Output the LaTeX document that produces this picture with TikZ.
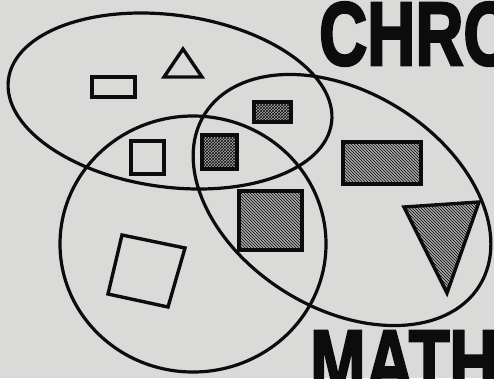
\documentclass[tikz,border=0pt]{standalone}
\usepackage{fontspec}
\usetikzlibrary{patterns}
\newfontfamily\headfont[FakeBold=3]{Liberation Sans Bold}
\definecolor{paper}{RGB}{218,218,216}
\definecolor{ink}{RGB}{12,12,12}
\tikzset{
  venn/.style={draw=ink, line width=3.2pt},
  outl/.style={draw=ink, line width=3.4pt, line join=miter},
  hatched/.style={outl, preaction={fill=gray!70}, pattern=north west lines, pattern color=ink},
  crossed/.style={outl, preaction={fill=gray!65}, pattern=crosshatch, pattern color=ink},
  headline/.style={anchor=base west, inner sep=0pt, text=ink}
}
\begin{document}
\begin{tikzpicture}[x=1pt, y=-1pt]
\useasboundingbox (0,0) rectangle (494,378);
\clip (0,0) rectangle (494,378);
\fill[paper] (0,0) rectangle (494,378);
% headings
\node[headline] (chro) at (319,65) {\scalebox{0.74}[1]{\headfont\fontsize{90}{90}\selectfont CHRO}};
\node[headline] (math) at (310,393) {\scalebox{0.74}[1]{\headfont\fontsize{90}{90}\selectfont MATH}};
% shapes
\draw[outl] (92,77) rectangle (135,97);
\draw[outl] (183,49) -- (164,77) -- (202,77) -- cycle;
\draw[crossed] (254,102) rectangle (291,122);
\draw[outl] (131,141) rectangle (164,174);
\draw[crossed] (202,135) rectangle (237,169);
\draw[hatched] (343,142) rectangle (421,184);
\draw[hatched] (239,191) rectangle (302,250);
\draw[hatched] (404,207) -- (479,202) -- (447,293) -- cycle;
\draw[outl] (122,235) -- (185,248) -- (168,307) -- (108,294) -- cycle;
% circles
\draw[venn, rotate around={-7.7:(170,101)}] (170,101) ellipse [x radius=163, y radius=86];
\draw[venn, rotate around={-32:(342,200)}] (342,200) ellipse [x radius=162, y radius=108];
\draw[venn] (193,244) ellipse [x radius=133, y radius=128];
\end{tikzpicture}
\end{document}
